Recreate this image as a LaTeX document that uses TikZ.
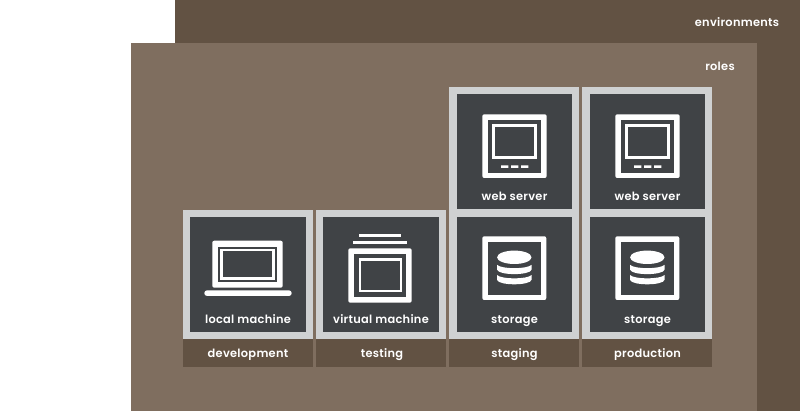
\documentclass[tikz,border=0pt]{standalone}
\usepackage{fontspec}
\setmainfont{Poppins}[BoldFont=* SemiBold,LetterSpace=2.5]
\usetikzlibrary{calc}
\definecolor{envc}{HTML}{625243}
\definecolor{rolec}{HTML}{7F6E5F}
\definecolor{framec}{HTML}{CFD1D2}
\definecolor{darkc}{HTML}{404346}
\tikzset{
  txt/.style={text=white,font=\fontsize{11.4}{12}\selectfont\bfseries,inner sep=0pt,anchor=base},
  outerbox/.style={fill=framec,draw=none},
  innerbox/.style={fill=darkc,draw=none},
  barbox/.style={fill=envc,draw=none},
  iconthin/.style={draw=white,line width=2.4pt,fill=none},
}
\newcommand{\iconframe}[4]{%
  \fill[white,rounded corners=2pt] (#1,#2) rectangle (#3,#4);
  \fill[darkc] ($(#1,#2)+(5.4,5.4)$) rectangle ($(#3,#4)+(-5.4,-5.4)$);}
\newcommand{\webicon}[2]{%
 \begin{scope}[shift={(#1,#2)}]
  \iconframe{0}{0}{64.4}{63.7}
  \draw[iconthin] (11.2,11.2) rectangle (53.2,43.2);
  \fill[white] (18.7,51.2) rectangle (26,53.7) (28.7,51.2) rectangle (36,53.7) (38.7,51.2) rectangle (46,53.7);
 \end{scope}}
\newcommand{\storeicon}[2]{%
 \begin{scope}[shift={(#1,#2)}]
  \iconframe{0}{0}{64}{63.7}
  \fill[white] (32,21) ellipse [x radius=17.2,y radius=6.7];
  \fill[white] (14.7,28.5) .. controls (19,33) and (45,33) .. (49.3,28.5) -- (49.3,33.3) .. controls (48,39.3) and (16,39.3) .. (14.7,33.3) -- cycle;
  \fill[white] (14.7,38.7) .. controls (19,43.2) and (45,43.2) .. (49.3,38.7) -- (49.3,43.5) .. controls (48,49.5) and (16,49.5) .. (14.7,43.5) -- cycle;
 \end{scope}}
\begin{document}
\begin{tikzpicture}[x=1pt,y=-1pt]
\useasboundingbox (0,0) rectangle (800,411);
\fill[white] (0,0) rectangle (800,411);
\fill[envc] (175,0) rectangle (800,411);
\fill[rolec] (131,43) rectangle (757,411);
\node[txt] (envlabel) at (737,27) {environments};
\node[txt] (rolelabel) at (720,71) {roles};
\fill[outerbox] (183,210) rectangle (313,339);
\fill[outerbox] (316,210) rectangle (446,339);
\fill[outerbox] (449.3,87.3) rectangle (578.7,339);
\fill[outerbox] (582,87.3) rectangle (712,339);
\fill[barbox] (183,339) rectangle (313,367);
\fill[barbox] (316,339) rectangle (446,367);
\fill[barbox] (449.3,339) rectangle (578.7,367);
\fill[barbox] (582,339) rectangle (712,367);
\fill[innerbox] (190,216.7) rectangle (305.7,332);
\fill[innerbox] (323,216.7) rectangle (438.7,332);
\fill[innerbox] (456.7,216.7) rectangle (572,332);
\fill[innerbox] (589.5,216.7) rectangle (705,332);
\fill[innerbox] (456.7,94) rectangle (572,209.3);
\fill[innerbox] (589.5,94) rectangle (705,209.3);
% laptop
\fill[white,rounded corners=2pt] (212.3,240.7) rectangle (282.7,287.7);
\fill[darkc] (218.3,246.7) rectangle (276.7,281.7);
\draw[white,line width=2.4pt] (221.5,249.9) rectangle (273.5,278.5);
\fill[white,rounded corners=2.8pt] (204.3,290.3) rectangle (291.7,296);
% vm
\iconframe{348.3}{248.3}{411.7}{302.7}
\draw[iconthin] (359.9,259.5) rectangle (400.8,291.1);
\fill[white] (353.3,241) rectangle (406.7,243.6);
\fill[white] (359.3,234) rectangle (400.7,236.6);
\webicon{482.3}{114.3}
\webicon{615.3}{114.3}
\storeicon{482.3}{236.3}
\storeicon{615.3}{236.3}
\node[txt] (a1) at (514.5,200.5) {web server};
\node[txt] (a2) at (647.5,200.5) {web server};
\node[txt] (b1) at (248,323.3) {local machine};
\node[txt] (b2) at (381,323.3) {virtual machine};
\node[txt] (b3) at (514.5,323.3) {storage};
\node[txt] (b4) at (647.5,323.3) {storage};
\node[txt] (c1) at (248,357.5) {development};
\node[txt] (c2) at (382,357.5) {testing};
\node[txt] (c3) at (514.5,357.5) {staging};
\node[txt] (c4) at (647.5,357.5) {production};
\end{tikzpicture}
\end{document}
